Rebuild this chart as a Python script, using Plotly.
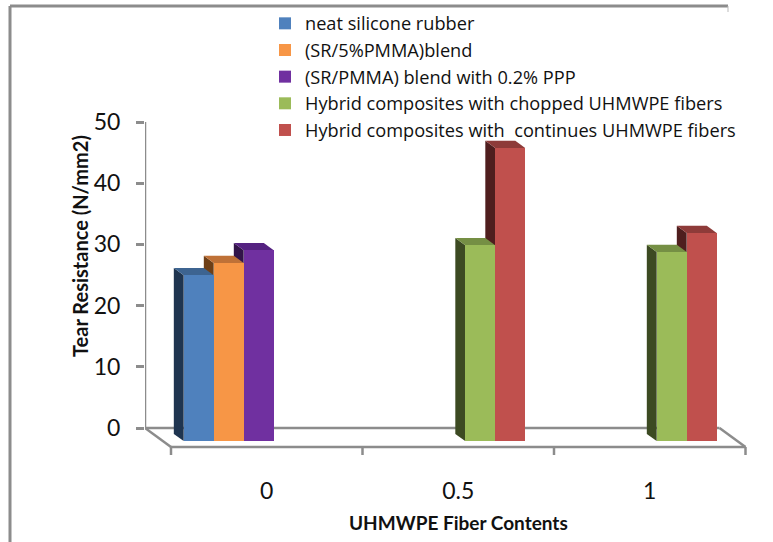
import plotly.graph_objects as go

# ---------------- data ----------------
categories = ["0", "0.5", "1"]
series_names = [
    "neat silicone rubber",
    "(SR/5%PMMA)blend",
    "(SR/PMMA) blend with 0.2% PPP",
    "Hybrid composites with chopped UHMWPE fibers",
    "Hybrid composites with  continues UHMWPE fibers",
]
neat_sr = [27.1, None, None]
sr_pmma = [29.1, None, None]
sr_pmma_ppp = [31.2, None, None]
hybrid_chopped = [None, 32.0, 30.9]
hybrid_continuous = [None, 47.9, 34.0]
series_values = [neat_sr, sr_pmma, sr_pmma_ppp, hybrid_chopped, hybrid_continuous]
y_ticks = [0, 10, 20, 30, 40, 50]

front_colors = ["#4F81BD", "#F79646", "#7030A0", "#9BBB59", "#C0504D"]
side_colors = ["#1F3550", "#6E3F17", "#321449", "#3C4A22", "#4F1E1E"]
top_colors = ["#3D6491", "#BF7137", "#552281", "#758F44", "#8E3B39"]

# ---------------- geometry (oblique 3D projection) ----------------
W, H = 773, 542
PX_L, PX_R, PX_T, PX_B = 145, 760, 122, 472
PX_PER_CAT = 191.5
PX_PER_VAL = 6.12
X0 = -0.5
X1 = X0 + (PX_R - PX_L) / PX_PER_CAT
Y1 = 50
Y0 = -(PX_B - 428) / PX_PER_VAL
DX = 26 / PX_PER_CAT     # depth shift in category units
DY = 19 / PX_PER_VAL     # depth shift in value units
D0, D1 = 0.31, 0.69      # bar depth (back, front)
BW = 30 / PX_PER_CAT     # bar width
GRAY = "#8C8C8C"
FONT = "Lato"
LEGEND_FONT = "Open Sans"


def paper_x(px):
    return (px - PX_L) / (PX_R - PX_L)


def paper_y(py):
    return (PX_B - py) / (PX_B - PX_T)


def proj(x, v, d):
    return x + d * DX, v - d * DY


shapes = []

# floor outline
n = len(categories)
floor_lines = [
    (proj(X0, 0, 0), proj(X0 + n, 0, 0)),
    (proj(X0, 0, 1), proj(X0 + n, 0, 1)),
    (proj(X0, 0, 0), proj(X0, 0, 1)),
    (proj(X0 + n, 0, 0), proj(X0 + n, 0, 1)),
]
for i in range(n + 1):
    fx, fy = proj(X0 + i, 0, 1)
    floor_lines.append(((fx, fy), (fx, fy - 8 / PX_PER_VAL)))
for (a, b) in floor_lines:
    shapes.append(dict(type="line", xref="x", yref="y", x0=a[0], y0=a[1], x1=b[0], y1=b[1],
                       line=dict(color=GRAY, width=2.5), layer="below"))

# back wall vertical axis line
shapes.append(dict(type="line", xref="x", yref="y", x0=X0, y0=0, x1=X0, y1=Y1,
                   line=dict(color=GRAY, width=2.5), layer="below"))


def path(pts):
    return "M " + " L ".join(f"{p[0]},{p[1]}" for p in pts) + " Z"


side_shapes, top_shapes = [], []
fig = go.Figure()
for k, (name, vals) in enumerate(zip(series_names, series_values)):
    xs, ys = [], []
    for i, v in enumerate(vals):
        if v is None:
            continue
        xc = i + (k - 2) * BW
        xl, xr = xc - BW / 2, xc + BW / 2
        side = [proj(xl, 0, D1), proj(xl, v, D1), proj(xl, v, D0), proj(xl, 0, D0)]
        top = [proj(xl, v, D1), proj(xr, v, D1), proj(xr, v, D0), proj(xl, v, D0)]
        side_shapes.append(dict(type="path", xref="x", yref="y", path=path(side),
                                fillcolor=side_colors[k], line=dict(width=0), layer="below"))
        top_shapes.append(dict(type="path", xref="x", yref="y", path=path(top),
                               fillcolor=top_colors[k], line=dict(width=0), layer="below"))
        xs.append(xc + D1 * DX)
        ys.append(v)
    fig.add_trace(go.Bar(
        x=xs, y=ys, base=-D1 * DY, width=BW, name=name,
        marker=dict(color=front_colors[k], line=dict(width=0)),
    ))

shapes += side_shapes + top_shapes

# chart border (top & left)
shapes.append(dict(type="line", xref="paper", yref="paper",
                   x0=paper_x(10), y0=paper_y(6), x1=paper_x(728), y1=paper_y(6),
                   line=dict(color=GRAY, width=3)))
shapes.append(dict(type="line", xref="paper", yref="paper",
                   x0=paper_x(10), y0=paper_y(6), x1=paper_x(10), y1=paper_y(560),
                   line=dict(color=GRAY, width=3)))
shapes.append(dict(type="line", xref="paper", yref="paper",
                   x0=paper_x(728), y0=paper_y(6), x1=paper_x(728), y1=paper_y(12),
                   line=dict(color="#BBBBBB", width=1)))

annotations = [
    dict(text="<b>Tear Resistance (N/mm2)</b>", xref="paper", yref="paper",
         x=paper_x(80), y=paper_y(246), textangle=-90, showarrow=False,
         font=dict(family=FONT, size=20, color="#111111"), xanchor="center", yanchor="middle"),
    dict(text="<b>UHMWPE Fiber Contents</b>", xref="paper", yref="paper",
         x=paper_x(458), y=paper_y(522), showarrow=False,
         font=dict(family=FONT, size=19, color="#111111"), xanchor="center", yanchor="middle"),
]

fig.update_layout(
    width=W, height=H, autosize=False,
    margin=dict(l=PX_L, r=W - PX_R, t=PX_T, b=H - PX_B, pad=0, autoexpand=False),
    paper_bgcolor="white", plot_bgcolor="white",
    barmode="overlay", bargap=0,
    shapes=shapes, annotations=annotations,
    font=dict(family=FONT, color="#111111"),
    legend=dict(
        x=paper_x(265), y=paper_y(5), xanchor="left", yanchor="top",
        font=dict(family=LEGEND_FONT, size=18.2, color="#111111"),
        bgcolor="rgba(0,0,0,0)", itemclick=False, traceorder="normal",
    ),
    showlegend=True,
    xaxis=dict(range=[X0, X1], showgrid=False, zeroline=False, showline=False,
               tickvals=[i + DX for i in range(n)], ticktext=categories, ticks="",
               tickfont=dict(family=FONT, size=23, color="#111111"), ticklabelstandoff=3),
    yaxis=dict(range=[Y0, Y1], showgrid=False, zeroline=False, showline=False,
               tickvals=y_ticks, ticktext=[str(t) for t in y_ticks],
               ticks="outside", ticklen=8, tickwidth=2.5, tickcolor=GRAY,
               tickfont=dict(family=FONT, size=23, color="#111111"), ticklabelstandoff=11),
)

fig.write_html("out.html", config={"displayModeBar": False},
               post_script="document.body.style.margin='0';")
